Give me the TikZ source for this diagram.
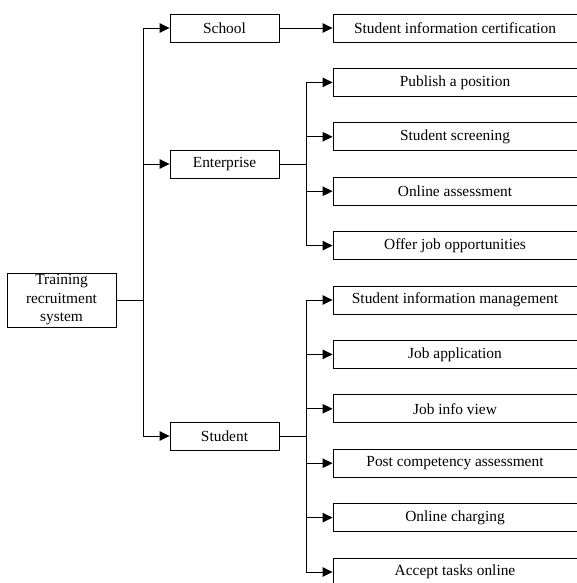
\documentclass[tikz,border=0pt]{standalone}
\usepackage{fontspec}
\setmainfont{Liberation Serif}
\usetikzlibrary{arrows.meta}
\begin{document}
\begin{tikzpicture}[x=1pt,y=-1pt,
  box/.style={draw,line width=0.9pt,inner sep=0pt,font=\fontsize{15.4}{18}\selectfont,anchor=center},
  midbox/.style={box,minimum width=109pt,minimum height=28pt},
  leafbox/.style={box,minimum width=244pt,minimum height=28pt},
  arr/.style={line width=0.9pt,-{Triangle[length=10pt,width=9.5pt]}},
  ln/.style={line width=0.9pt}]
\useasboundingbox (0,0) rectangle (576,583);
\node[box,minimum width=109pt,minimum height=54pt,align=center,font=\fontsize{15.4}{18.5}\selectfont] (root) at (61.5,300) {Training\\recruitment\\system};
\node[midbox] (school) at (224.5,28) {School};
\node[midbox] (ent) at (224.5,164) {Enterprise};
\node[midbox] (stu) at (224.5,436) {Student};
\node[leafbox] (cert) at (455,28) {Student information certification};
\node[leafbox] (e1) at (455,82.4) {Publish a position};
\node[leafbox] (e2) at (455,136.8) {Student screening};
\node[leafbox] (e3) at (455,191.2) {Online assessment};
\node[leafbox] (e4) at (455,245.6) {Offer job opportunities};
\node[leafbox] (s1) at (455,300) {Student information management};
\node[leafbox] (s2) at (455,354.4) {Job application};
\node[leafbox] (s3) at (455,408.8) {Job info view};
\node[leafbox] (s4) at (455,463.2) {Post competency assessment};
\node[leafbox] (s5) at (455,517.6) {Online charging};
\node[leafbox] (s6) at (455,572) {Accept tasks online};
\coordinate (t) at (143,300);
\coordinate (et) at (306,164);
\coordinate (st) at (306,436);
\draw[ln] (root.east) -- (t);
\draw[arr] (t) |- (school.west);
\draw[arr] (t) |- (ent.west);
\draw[arr] (t) |- (stu.west);
\draw[arr] (school.east) -- (cert.west);
\draw[ln] (ent.east) -- (et);
\foreach \n in {e1,e2,e3,e4} \draw[arr] (et) |- (\n.west);
\draw[ln] (stu.east) -- (st);
\foreach \n in {s1,s2,s3,s4,s5,s6} \draw[arr] (st) |- (\n.west);
\end{tikzpicture}
\end{document}
